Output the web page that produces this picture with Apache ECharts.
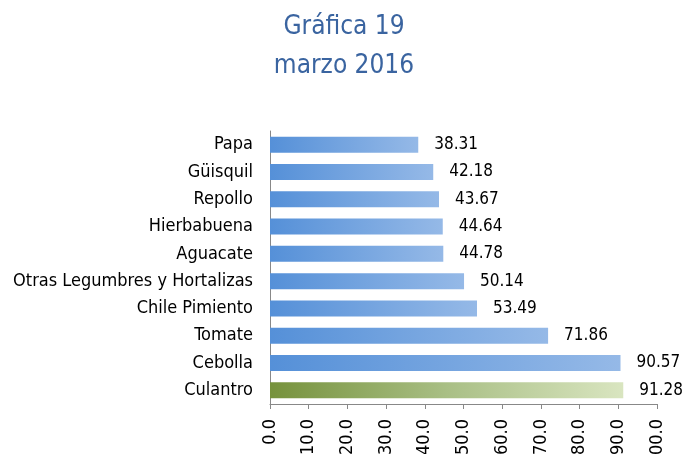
<!DOCTYPE html>
<html>
<head>
<meta charset="utf-8">
<script src="https://cdn.jsdelivr.net/npm/echarts@6/dist/echarts.min.js"></script>
<style>
  html, body { margin: 0; padding: 0; background: #fff; }
  #chart { width: 688px; height: 454px; }
</style>
</head>
<body>
<div id="chart"></div>
<script>
"use strict";

// productos (de abajo hacia arriba, como en el eje de categorías)
var categories = [
    'Culantro', 'Cebolla', 'Tomate', 'Chile Pimiento',
    'Otras Legumbres y Hortalizas', 'Aguacate', 'Hierbabuena',
    'Repollo', 'Güisquil', 'Papa'
];
var values = [91.28, 90.57, 71.86, 53.49, 50.14, 44.78, 44.64, 43.67, 42.18, 38.31];
var highlighted = 'Culantro';

var fontName = '"DejaVu Sans Condensed", "DejaVu Sans", sans-serif';

var blueBar = new echarts.graphic.LinearGradient(0, 0, 1, 0, [
    { offset: 0, color: '#5590d8' },
    { offset: 1, color: '#95b9e7' }
]);
var greenBar = new echarts.graphic.LinearGradient(0, 0, 1, 0, [
    { offset: 0, color: '#76923c' },
    { offset: 0.5, color: '#a9bf85' },
    { offset: 1, color: '#d9e5c0' }
]);

var barData = values.map(function (v, i) {
    return {
        value: v,
        itemStyle: { color: categories[i] === highlighted ? greenBar : blueBar }
    };
});

var myChart = echarts.init(document.getElementById('chart'));

var option = {
    animation: false,
    title: [
        { text: 'Gráfica 19', left: 'center', top: 9,
          textStyle: { color: '#3a64a0', fontSize: 26, fontWeight: 'normal', fontFamily: fontName } },
        { text: 'marzo 2016', left: 'center', top: 48,
          textStyle: { color: '#3a64a0', fontSize: 26, fontWeight: 'normal', fontFamily: fontName } }
    ],
    grid: {
        left: 270, right: 31, top: 131, bottom: 50,
        containLabel: false,
        outerBoundsMode: 'none'
    },
    xAxis: {
        type: 'value',
        min: 0,
        max: 100,
        interval: 10,
        splitLine: { show: false },
        axisLine: { show: true, lineStyle: { color: '#888' } },
        axisTick: { show: true, length: 5, lineStyle: { color: '#888' } },
        axisLabel: {
            rotate: 90,
            margin: 15,
            color: '#000',
            fontSize: 18,
            fontFamily: fontName,
            formatter: function (v) { return v.toFixed(1); }
        }
    },
    yAxis: {
        type: 'category',
        data: categories,
        axisLine: { show: true, lineStyle: { color: '#888' } },
        axisTick: { show: false },
        axisLabel: { color: '#000', fontSize: 18, margin: 17, fontFamily: fontName }
    },
    series: [{
        type: 'bar',
        data: barData,
        barWidth: 16,
        label: {
            show: true,
            position: 'right',
            distance: 16,
            color: '#000',
            fontSize: 17,
            fontFamily: fontName,
            formatter: function (p) { return p.value.toFixed(2); }
        }
    }]
};

myChart.setOption(option);
</script>
</body>
</html>
